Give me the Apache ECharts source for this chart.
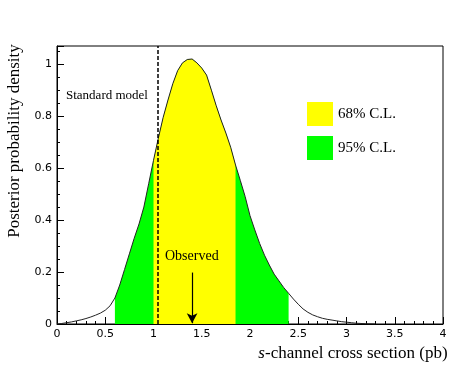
<!DOCTYPE html>
<html>
<head>
<meta charset="utf-8">
<script src="https://cdn.jsdelivr.net/npm/echarts@6/dist/echarts.min.js"></script>
<style>
  html, body { margin: 0; padding: 0; background: #fff; }
  #chart { width: 469px; height: 366px; }
</style>
</head>
<body>
<div id="chart"></div>
<script>
// cross section (pb) and posterior density
var xValues = [0.00, 0.05, 0.10, 0.15, 0.20, 0.25, 0.30, 0.35, 0.40, 0.45,
  0.50, 0.55, 0.60, 0.65, 0.70, 0.75, 0.80, 0.85, 0.90, 0.95,
  1.00, 1.05, 1.10, 1.15, 1.20, 1.25, 1.30, 1.35, 1.40, 1.45,
  1.50, 1.55, 1.60, 1.65, 1.70, 1.75, 1.80, 1.85, 1.90, 1.95,
  2.00, 2.05, 2.10, 2.15, 2.20, 2.25, 2.30, 2.35, 2.40, 2.45,
  2.50, 2.55, 2.60, 2.65, 2.70, 2.75, 2.80, 2.85, 2.90, 2.95,
  3.00, 3.05, 3.10, 3.15, 3.20, 3.30];
var density = [0.000, 0.002, 0.005, 0.008, 0.012, 0.016, 0.021, 0.027, 0.034, 0.042,
  0.053, 0.070, 0.100, 0.150, 0.210, 0.270, 0.330, 0.385, 0.450, 0.540,
  0.630, 0.715, 0.795, 0.862, 0.925, 0.975, 1.005, 1.018, 1.020, 1.005,
  0.985, 0.958, 0.900, 0.840, 0.785, 0.735, 0.680, 0.612, 0.552, 0.490,
  0.417, 0.362, 0.310, 0.265, 0.227, 0.192, 0.166, 0.140, 0.118, 0.096,
  0.076, 0.058, 0.045, 0.035, 0.028, 0.022, 0.018, 0.015, 0.012, 0.009,
  0.007, 0.005, 0.003, 0.002, 0.001, 0.000];
var band95 = [0.60, 2.40];
var band68 = [1.00, 1.85];
var standardModel = 1.04;
var observed = 1.40;
var xTicks = [0, 0.5, 1, 1.5, 2, 2.5, 3, 3.5, 4];

var curve = xValues.map(function (x, i) { return [x, density[i]]; });
function slice(range) {
  return curve.filter(function (p) { return p[0] >= range[0] - 1e-9 && p[0] <= range[1] + 1e-9; });
}

var serif = 'Liberation Serif';
var sans = 'DejaVu Sans';

var myChart = echarts.init(document.getElementById('chart'));
var option = {
  animation: false,
  grid: {
    left: 57, right: 26, top: 46, bottom: 42, containLabel: false, outerBoundsMode: 'none',
    show: true, borderColor: '#000', borderWidth: 1
  },
  legend: {
    orient: 'vertical', left: 307, top: 102, padding: 0, itemWidth: 26, itemHeight: 24, itemGap: 10,
    icon: 'rect', selectedMode: false,
    textStyle: { fontFamily: serif, fontSize: 15, color: '#000' },
    data: [
      { name: '68% C.L.', itemStyle: { color: '#ffff00', borderWidth: 0 } },
      { name: '95% C.L.', itemStyle: { color: '#00ff00', borderWidth: 0 } }
    ]
  },
  xAxis: {
    type: 'value', min: 0, max: 4, interval: 0.5,
    name: '{i|s}-channel cross section (pb)', nameLocation: 'middle', nameGap: 21,
    nameTextStyle: {
      fontFamily: serif, fontSize: 17, color: '#000', padding: [0, 0, 0, 206],
      rich: { i: { fontFamily: serif, fontSize: 17, fontStyle: 'italic', color: '#000' } }
    },
    axisLine: { onZero: false, lineStyle: { color: '#000', width: 1 } },
    axisTick: { inside: true, length: 7, lineStyle: { color: '#000' } },
    minorTick: { show: true, splitNumber: 5, length: 3, lineStyle: { color: '#000' } },
    axisLabel: {
      fontFamily: sans, fontSize: 11, color: '#000', margin: 5,
      formatter: function (v) { return xTicks.indexOf(v) >= 0 ? String(v) : ''; }
    },
    splitLine: { show: false }
  },
  yAxis: {
    type: 'value', min: 0, max: 1.07, interval: 0.2,
    name: 'Posterior probability density', nameLocation: 'middle', nameGap: 34,
    nameTextStyle: { fontFamily: serif, fontSize: 17, color: '#000', padding: [0, 0, 0, 88] },
    axisLine: { show: true, onZero: false, lineStyle: { color: '#000', width: 1 } },
    axisTick: { inside: true, length: 7, lineStyle: { color: '#000' } },
    minorTick: { show: true, splitNumber: 4, length: 3, lineStyle: { color: '#000' } },
    axisLabel: { fontFamily: sans, fontSize: 11, color: '#000', margin: 5, showMaxLabel: false },
    splitLine: { show: false }
  },
  series: [
    {
      name: '95% C.L.', type: 'line', data: slice(band95), symbol: 'none', z: 2,
      color: '#00ff00', lineStyle: { width: 0 }, areaStyle: { color: '#00ff00', opacity: 1 }
    },
    {
      name: '68% C.L.', type: 'line', data: slice(band68), symbol: 'none', z: 3,
      color: '#ffff00', lineStyle: { width: 0 }, areaStyle: { color: '#ffff00', opacity: 1 }
    },
    {
      name: 'posterior', type: 'line', data: curve, symbol: 'none', z: 4,
      lineStyle: { color: '#222', width: 1 },
      markLine: {
        silent: true, animation: false,
        label: { show: false },
        data: [
          [
            { coord: [standardModel, 0], symbol: 'none', lineStyle: { type: [4, 2], color: '#000', width: 1.5 } },
            { coord: [standardModel, 1.07], symbol: 'none' }
          ],
          [
            { coord: [observed, 0.198], symbol: 'none', lineStyle: { type: 'solid', color: '#000', width: 1.2 } },
            { coord: [observed, 0.003], symbol: 'arrow', symbolSize: [8, 10] }
          ]
        ]
      }
    }
  ],
  graphic: [
    { type: 'text', left: 66, top: 89, z: 100, style: { text: 'Standard model', font: '13px "Liberation Serif"', fill: '#000' } },
    { type: 'text', left: 165, top: 249, z: 100, style: { text: 'Observed', font: '14px "Liberation Serif"', fill: '#000' } }
  ]
};
myChart.setOption(option);
window.addEventListener('resize', function () { myChart.resize(); });
</script>
</body>
</html>
